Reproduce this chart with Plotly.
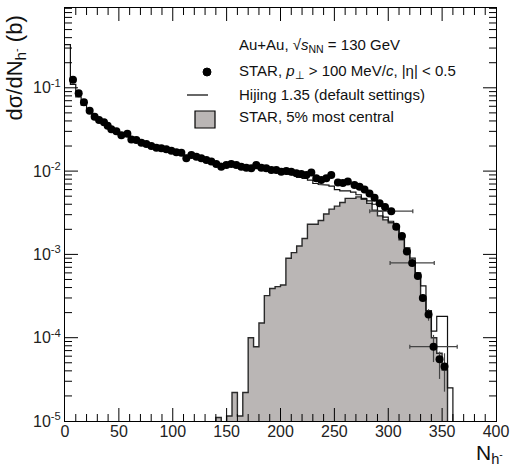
import plotly.graph_objects as go
import math

# ---------------- data ----------------
star_n = [7.4, 12.7, 17.6, 22.9, 27.5, 31.6, 36.2, 39.6, 43.0, 47.7, 52.3, 57.9, 61.6, 66.2,
          70.9, 75.5, 80.1, 84.8, 89.4, 94.0, 98.7, 103.3, 108.0, 112.6, 117.3, 121.9,
          126.5, 131.2, 135.8, 140.4, 145.0, 149.7, 154.3, 159.0, 163.6, 168.3, 172.9,
          177.5, 182.2, 186.8, 191.5, 196.1, 200.7, 205.4, 210.0, 214.7, 219.3, 224.0,
          228.6, 233.2, 237.8, 242.5, 247.1, 253.3, 257.9, 262.5, 268.7, 273.4, 278.0,
          282.6, 287.3, 292.0, 297.0, 302.8, 307.4, 312.7, 317.3, 322.2, 327.5, 332.1,
          337.4, 342.0, 347.6, 352.2]
star_v = [0.125, 0.086, 0.067, 0.053, 0.045, 0.041, 0.0385, 0.035, 0.0318, 0.030, 0.027,
          0.028, 0.024, 0.0236, 0.0219, 0.0211, 0.020, 0.0191, 0.0188, 0.0183, 0.0176,
          0.0168, 0.0166, 0.0143, 0.0156, 0.0149, 0.0143, 0.0136, 0.0130, 0.0122, 0.0113,
          0.0118, 0.0122, 0.0118, 0.0113, 0.0110, 0.0108, 0.0118, 0.0110, 0.0108, 0.0103,
          0.0103, 0.0098, 0.0100, 0.0098, 0.0094, 0.0092, 0.0090, 0.0096, 0.0082, 0.0078,
          0.0082, 0.0090, 0.0073, 0.0072, 0.0075, 0.0068, 0.0065, 0.0060, 0.0054, 0.0048,
          0.0041, 0.0037, 0.0033, 0.00215, 0.00166, 0.00108, 0.00079, 0.00055, 0.00030,
          0.00019, 0.000078, 0.000055, 0.000045]
star_ex = [0] * 63 + [20, 0, 0, 0, 20.5, 0, 0, 0, 22, 0, 0]
star_ey_plus = [0] * 69 + [0.00003, 0.00003, 0.00003, 0.000013, 0.00002]
star_ey_minus = [0] * 69 + [0.00003, 0.00003, 0.000027, 0.000023, 0.0000225]

hij_edges = list(range(0, 365, 5))
hij_v = [0.33, 0.11, 0.078, 0.062, 0.051, 0.044, 0.040, 0.036, 0.033, 0.030, 0.028,
         0.0265, 0.0245, 0.023, 0.0218, 0.0208, 0.0198, 0.019, 0.0183, 0.0175, 0.0168,
         0.0162, 0.0155, 0.015, 0.0145, 0.014, 0.0135, 0.013, 0.0124, 0.012, 0.0118,
         0.0117, 0.0113, 0.011, 0.0107, 0.0108, 0.0105, 0.0102, 0.0099, 0.0097, 0.0094,
         0.0092, 0.009, 0.0084, 0.0082, 0.0078, 0.0071, 0.0069, 0.0068, 0.0066, 0.006,
         0.0058, 0.0058, 0.0056, 0.0052, 0.0047, 0.0044, 0.004, 0.0033, 0.0028, 0.0025,
         0.0022, 0.0016, 0.0012, 0.0009, 0.0006, 0.00042, 0.00021, 0.00012, 0.00018,
         0.00018, 0.000025]

cen_edges = list(range(140, 360, 5))
cen_v = [1.1e-5, 0, 1.15e-5, 2.2e-5, 1.15e-5, 2.2e-5, 1.0e-4, 7.8e-5, 1.5e-4, 3.2e-4,
         3.9e-4, 4.1e-4, 4.3e-4, 9.0e-4, 1.05e-3, 1.26e-3, 1.55e-3, 2.3e-3, 2.3e-3,
         2.55e-3, 3.05e-3, 3.5e-3, 3.8e-3, 4.2e-3, 4.7e-3, 4.7e-3, 4.9e-3, 4.6e-3,
         4.1e-3, 3.4e-3, 2.9e-3, 2.6e-3, 2.4e-3, 2.0e-3, 1.5e-3, 1.1e-3, 7.9e-4, 5.4e-4,
         2.9e-4, 2.1e-4, 1.0e-4, 6.5e-5, 4.1e-5]

x_ticks = [0, 50, 100, 150, 200, 250, 300, 350, 400]
x_minor = [v for v in range(10, 400, 10) if v % 50]
y_ticks = [1e-5, 1e-4, 1e-3, 1e-2, 1e-1]
y_ticktext = ["10<sup>-5</sup>", "10<sup>-4</sup>", "10<sup>-3</sup>", "10<sup>-2</sup>", "10<sup>-1</sup>"]
y_minor = [m * 10.0 ** e for e in range(-5, 0) for m in range(2, 10)]

FLOOR = 1e-7
FONT = "Liberation Sans, Arial, Helvetica, sans-serif"
X_RANGE = [0, 400]
Y_RANGE = [-5, -0.042]

cx, cy = [cen_edges[0]], [FLOOR]
for i, v in enumerate(cen_v):
    vv = v if v > 0 else FLOOR
    cx += [cen_edges[i], cen_edges[i + 1]]
    cy += [vv, vv]
cx.append(cen_edges[-1]); cy.append(FLOOR)

hx, hy = [], []
for i, v in enumerate(hij_v):
    hx += [hij_edges[i], hij_edges[i + 1]]
    hy += [v, v]
hx.append(hij_edges[-1]); hy.append(FLOOR)

fig = go.Figure()
fig.add_trace(go.Scatter(x=cx, y=cy, mode="lines", fill="toself", fillcolor="#bab6b5",
                         line=dict(color="#2a2a2a", width=1.4), hoverinfo="skip", showlegend=False))
fig.add_trace(go.Scatter(x=hx, y=hy, mode="lines", line=dict(color="#111111", width=1.2),
                         hoverinfo="skip", showlegend=False))
fig.add_trace(go.Scatter(
    x=star_n, y=star_v, mode="markers",
    marker=dict(color="black", size=8, symbol="circle"),
    error_x=dict(type="data", array=star_ex, symmetric=True, color="#444444", thickness=1.2, width=2),
    error_y=dict(type="data", array=star_ey_plus, arrayminus=star_ey_minus, symmetric=False,
                 color="#444444", thickness=1.2, width=0),
    showlegend=False))

# body margin is reset to 0 after plotting (post_script), so figure origin is page (0, 0)
W, H = 510, 468
PL, PR, PT, PB = 65, 496, 8, 421
L, R, T, B = PL, W - PR, PT, H - PB
pw, ph = PR - PL, PB - PT

def px(xp):
    return (xp - PL) / pw

def py(yp):
    return (PB - yp) / ph

fig.update_layout(
    width=W, height=H, margin=dict(l=L, r=R, t=T, b=B, autoexpand=False),
    paper_bgcolor="white", plot_bgcolor="white",
    xaxis=dict(range=X_RANGE, tickmode="array", tickvals=x_ticks, ticks="", showline=True,
               linecolor="black", linewidth=1, mirror=True, showgrid=False, zeroline=False,
               ticklabeloverflow="allow", ticklabelstandoff=-4,
               tickfont=dict(family=FONT, size=16, color="#222")),
    yaxis=dict(type="log", range=Y_RANGE, tickmode="array", tickvals=y_ticks, ticktext=y_ticktext,
               ticks="", showline=True, linecolor="black", linewidth=1, mirror=True,
               showgrid=False, zeroline=False, ticklabeloverflow="allow",
               tickfont=dict(family=FONT, size=16, color="#222")),
)

# tick marks drawn as inside shapes on all four sides
MAJ, MIN = 13, 7
tick_line = dict(color="black", width=1)
for vals, ln in ((x_ticks, MAJ), (x_minor, MIN)):
    for v in vals:
        if v <= X_RANGE[0] or v >= X_RANGE[1]:
            continue
        fig.add_shape(type="line", xref="x", yref="paper", x0=v, x1=v, y0=0, y1=ln / ph, line=tick_line)
        fig.add_shape(type="line", xref="x", yref="paper", x0=v, x1=v, y0=1, y1=1 - ln / ph, line=tick_line)
for vals, ln in ((y_ticks, MAJ), (y_minor, MIN)):
    for v in vals:
        f = (math.log10(v) - Y_RANGE[0]) / (Y_RANGE[1] - Y_RANGE[0])
        if f <= 0 or f >= 1:
            continue
        fig.add_shape(type="line", xref="paper", yref="paper", x0=0, x1=ln / pw, y0=f, y1=f, line=tick_line)
        fig.add_shape(type="line", xref="paper", yref="paper", x0=1, x1=1 - ln / pw, y0=f, y1=f, line=tick_line)

fs = 15
ann = [
    dict(text="Au+Au, √<i>s</i><sub>NN</sub> = 130 GeV", x=px(237), y=py(45)),
    dict(text="STAR, <i>p</i><sub>⊥</sub> &gt; 100 MeV/<i>c</i>, |η| &lt; 0.5", x=px(237), y=py(72)),
    dict(text="Hijing 1.35 (default settings)", x=px(237), y=py(95)),
    dict(text="STAR, 5% most central", x=px(237), y=py(117)),
]
for a in ann:
    fig.add_annotation(xref="paper", yref="paper", xanchor="left", yanchor="middle", showarrow=False,
                       font=dict(family=FONT, size=fs, color="#111"), **a)

r = 4
fig.add_shape(type="circle", xref="paper", yref="paper", x0=px(207 - r), x1=px(207 + r),
              y0=py(72 + r), y1=py(72 - r), fillcolor="black", line=dict(color="black", width=1))
fig.add_shape(type="line", xref="paper", yref="paper", x0=px(187), x1=px(208), y0=py(95), y1=py(95),
              line=dict(color="black", width=1.2))
fig.add_shape(type="rect", xref="paper", yref="paper", x0=px(195), x1=px(215), y0=py(128), y1=py(111),
              fillcolor="#bab6b5", line=dict(color="black", width=1.2))

fig.add_annotation(text="dσ/dN<sub>h<sup>-</sup></sub> (b)", xref="paper", yref="paper",
                   x=px(15), y=py(14), xanchor="center", yanchor="top", textangle=-90, showarrow=False,
                   font=dict(family=FONT, size=22, color="#111"))
fig.add_annotation(text="N<sub>h<sup>-</sup></sub>", xref="paper", yref="paper",
                   x=px(505), y=py(454), xanchor="right", yanchor="middle", showarrow=False,
                   font=dict(family=FONT, size=21, color="#111"))

fig.write_html("out.html", config={"displayModeBar": False},
               post_script="document.body.style.margin='0';")
